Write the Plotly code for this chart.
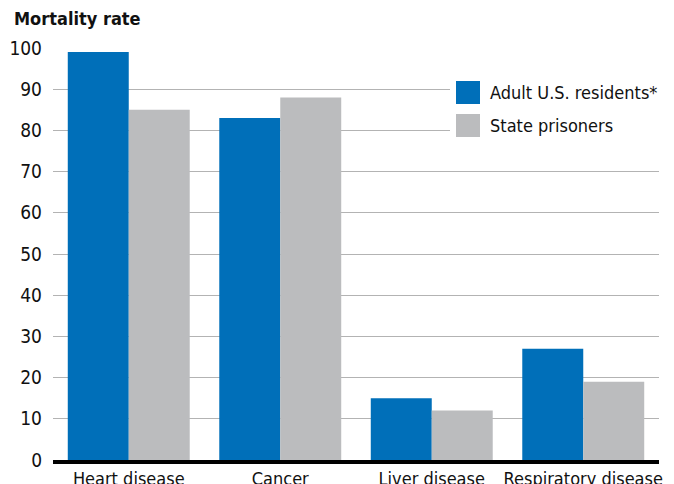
import plotly.graph_objects as go

categories = ["Heart disease", "Cancer", "Liver disease", "Respiratory disease"]
adult_residents = [99, 83, 15, 27]
state_prisoners = [85, 88, 12, 19]
y_ticks = [0, 10, 20, 30, 40, 50, 60, 70, 80, 90, 100]
series_names = ["Adult U.S. residents*", "State prisoners"]
colors = ["#006FB9", "#BBBCBE"]

FONT = "DejaVu Sans Condensed, Liberation Sans Narrow, sans-serif"

fig = go.Figure()
fig.add_trace(go.Bar(x=categories, y=adult_residents, name=series_names[0],
                     marker=dict(color=colors[0], line=dict(width=0)), showlegend=False))
fig.add_trace(go.Bar(x=categories, y=state_prisoners, name=series_names[1],
                     marker=dict(color=colors[1], line=dict(width=0)), showlegend=False))

# page body has an 8px margin; positions below are in window pixels
OFF = 8
W, H = 674, 484
PL, PR, PT, PB = 53, 659, 48, 460  # plot area in window pixels
L, T = PL - OFF, PT - OFF
R = W - (PR - OFF)
B = H - (PB - OFF)
pw, ph = PR - PL, PB - PT

def px(x):
    return (x - PL) / pw

def py(y):
    return (PB - y) / ph

shapes = [
    dict(type="rect", xref="paper", yref="paper", x0=px(450), x1=px(674), y0=py(147), y1=py(70),
         fillcolor="white", line=dict(width=0), layer="above"),
]
annotations = [
    dict(text="<b>Mortality rate</b>", xref="paper", yref="paper", x=px(12), y=py(19),
         xanchor="left", yanchor="middle", showarrow=False, font=dict(size=18, color="#111", family=FONT)),
]
for i, (name, col) in enumerate(zip(series_names, colors)):
    top = 81 + i * 33
    shapes.append(dict(type="rect", xref="paper", yref="paper", x0=px(456), x1=px(480),
                       y0=py(top + 23), y1=py(top), fillcolor=col, line=dict(width=0), layer="above"))
    annotations.append(dict(text=name, xref="paper", yref="paper", x=px(488), y=py(top + 11.5),
                            xanchor="left", yanchor="middle", showarrow=False,
                            font=dict(size=18, color="#111", family=FONT)))

fig.update_layout(
    width=W, height=H,
    margin=dict(l=L, r=R, t=T, b=B, pad=0),
    paper_bgcolor="white", plot_bgcolor="white",
    barmode="group", bargap=0.195, bargroupgap=0,
    font=dict(family=FONT, size=18, color="#111"),
    shapes=shapes, annotations=annotations,
    xaxis=dict(showgrid=False, showline=True, linecolor="black", linewidth=3.5,
               ticks="", tickfont=dict(size=18), ticklabelstandoff=0, automargin=False),
    yaxis=dict(range=[0, 100], tickvals=y_ticks, showgrid=True, gridcolor="#B3B3B3",
               gridwidth=1, zeroline=False, showline=False, ticks="",
               tickfont=dict(size=19), ticklabelstandoff=10, automargin=False),
)

fig.write_html("out.html")
